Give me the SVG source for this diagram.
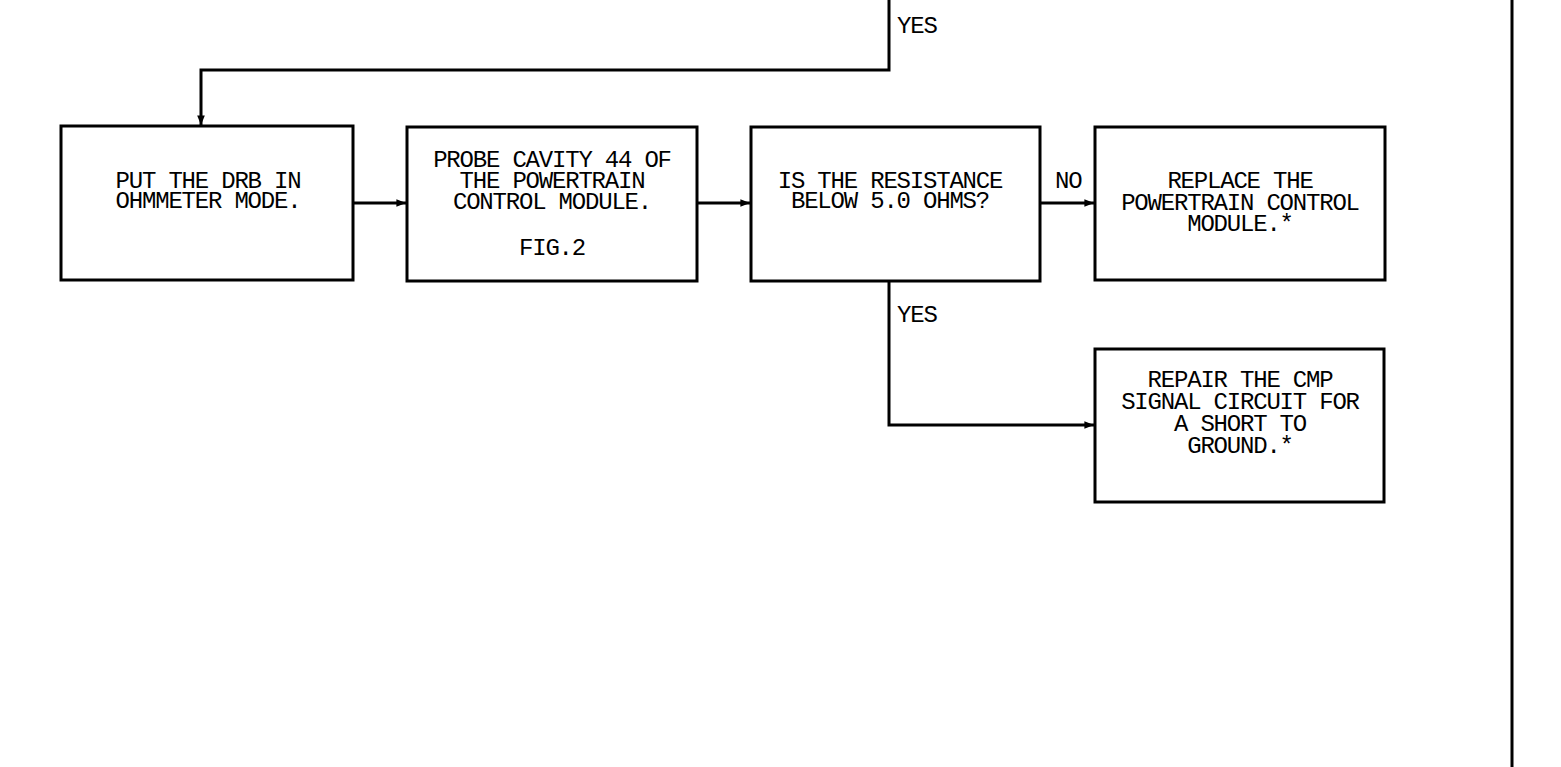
<svg xmlns="http://www.w3.org/2000/svg" width="1561" height="767" viewBox="0 0 1561 767">
<style>
.box{fill:#fff;stroke:#000;stroke-width:3}
.ln{fill:none;stroke:#000;stroke-width:3}
text{font-family:"Liberation Mono","DejaVu Sans Mono",monospace;font-size:24px;letter-spacing:-1.2px;fill:#000}
.c{text-anchor:middle}
</style>
<defs>
<marker id="ah" viewBox="0 0 10 10" refX="10" refY="5" markerWidth="3.2" markerHeight="3.2" orient="auto" markerUnits="strokeWidth">
<path d="M0,1 L10,5 L0,9 Z" fill="#000"/>
</marker>
</defs>
<rect width="1561" height="767" fill="#fff"/>
<g id="connectors">
<polyline class="ln" points="889,0 889,70 201,70 201,125" marker-end="url(#ah)"/>
<line class="ln" x1="353" y1="203" x2="406" y2="203" marker-end="url(#ah)"/>
<line class="ln" x1="697" y1="203" x2="750" y2="203" marker-end="url(#ah)"/>
<line class="ln" x1="1040" y1="203" x2="1094" y2="203" marker-end="url(#ah)"/>
<polyline class="ln" points="889,281 889,425 1094,425" marker-end="url(#ah)"/>
<text x="897" y="33">YES</text>
<text x="1055" y="188">NO</text>
<text x="897" y="322">YES</text>
</g>
<line class="ln" x1="1512" y1="0" x2="1512" y2="767"/>
<g id="n1">
<rect class="box" x="61" y="126" width="292" height="154"/>
<text class="c" x="208" y="188">PUT THE DRB IN</text>
<text class="c" x="208" y="208">OHMMETER MODE.</text>
</g>
<g id="n2">
<rect class="box" x="407" y="127" width="290" height="154"/>
<text class="c" x="552" y="167">PROBE CAVITY 44 OF</text>
<text class="c" x="552" y="188">THE POWERTRAIN</text>
<text class="c" x="552" y="209">CONTROL MODULE.</text>
<text class="c" x="552" y="255">FIG.2</text>
</g>
<g id="n3">
<rect class="box" x="751" y="127" width="289" height="154"/>
<text class="c" x="890" y="188">IS THE RESISTANCE</text>
<text class="c" x="890" y="208">BELOW 5.0 OHMS?</text>
</g>
<g id="n4">
<rect class="box" x="1095" y="127" width="290" height="153"/>
<text class="c" x="1240" y="188">REPLACE THE</text>
<text class="c" x="1240" y="210">POWERTRAIN CONTROL</text>
<text class="c" x="1240" y="231">MODULE.*</text>
</g>
<g id="n5">
<rect class="box" x="1095" y="349" width="289" height="153"/>
<text class="c" x="1240" y="387">REPAIR THE CMP</text>
<text class="c" x="1240" y="409">SIGNAL CIRCUIT FOR</text>
<text class="c" x="1240" y="431">A SHORT TO</text>
<text class="c" x="1240" y="453">GROUND.*</text>
</g>
</svg>
